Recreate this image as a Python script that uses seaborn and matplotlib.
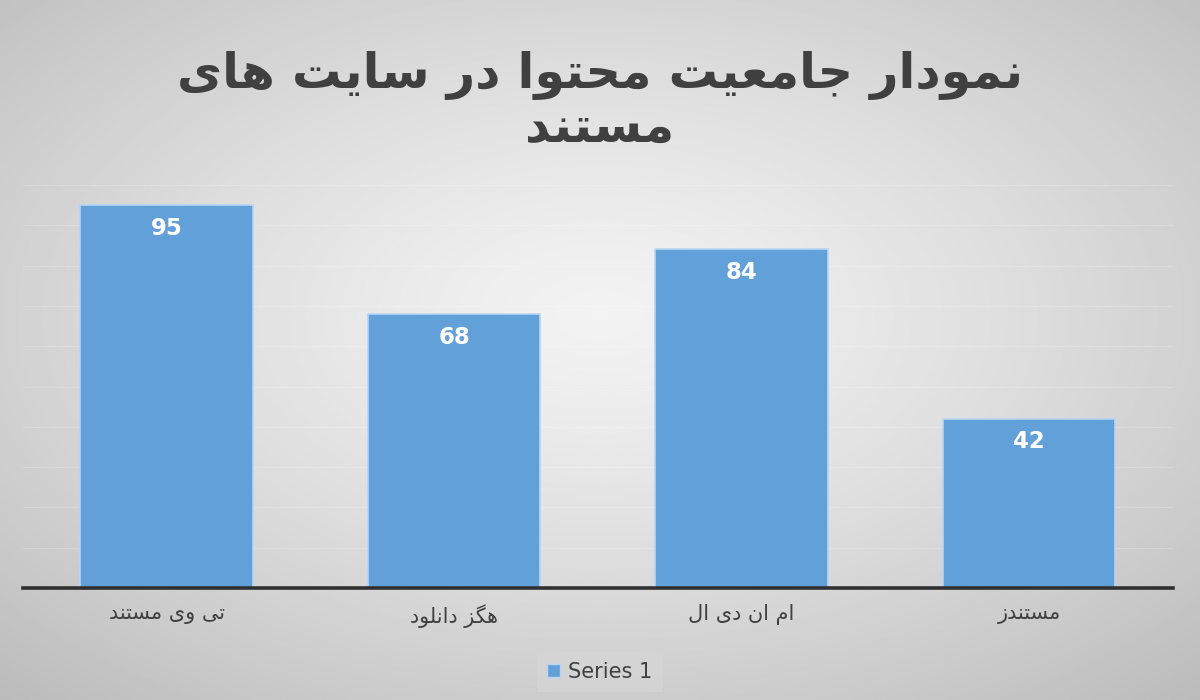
"""Persian bar chart: content coverage on documentary sites."""

import matplotlib
matplotlib.use("Agg")
import matplotlib.pyplot as plt
import numpy as np
import pandas as pd
import seaborn as sns
from matplotlib.patches import Patch

sns.set_style("white")
plt.rcParams["font.family"] = ["DejaVu Sans"]

# --- data -------------------------------------------------------------
TITLE_LINES = ["نمودار جامعیت محتوا در سایت های", "مستند"]
CATEGORIES = ["تی وی مستند", "هگز دانلود", "ام ان دی ال", "مستندز"]
VALUES = [95, 68, 84, 42]
SERIES_NAME = "Series 1"

BAR_COLOR = "#62a0da"
TEXT_COLOR = "#404040"

# Minimal Arabic/Persian shaper: (isolated, final, initial, medial)
_FORMS = {
    "ا": ("\uFE8D", "\uFE8E", None, None),
    "ت": ("\uFE95", "\uFE96", "\uFE97", "\uFE98"),
    "ج": ("\uFE9D", "\uFE9E", "\uFE9F", "\uFEA0"),
    "ح": ("\uFEA1", "\uFEA2", "\uFEA3", "\uFEA4"),
    "د": ("\uFEA9", "\uFEAA", None, None),
    "ر": ("\uFEAD", "\uFEAE", None, None),
    "ز": ("\uFEAF", "\uFEB0", None, None),
    "س": ("\uFEB1", "\uFEB2", "\uFEB3", "\uFEB4"),
    "ع": ("\uFEC9", "\uFECA", "\uFECB", "\uFECC"),
    "ل": ("\uFEDD", "\uFEDE", "\uFEDF", "\uFEE0"),
    "م": ("\uFEE1", "\uFEE2", "\uFEE3", "\uFEE4"),
    "ن": ("\uFEE5", "\uFEE6", "\uFEE7", "\uFEE8"),
    "ه": ("\uFEE9", "\uFEEA", "\uFEEB", "\uFEEC"),
    "و": ("\uFEED", "\uFEEE", None, None),
    "ی": ("\uFBFC", "\uFBFD", "\uFBFE", "\uFBFF"),
    "گ": ("\uFB92", "\uFB93", "\uFB94", "\uFB95"),
}


def shape(text):
    """Pick contextual glyph forms and reverse into visual order."""
    out = []
    for i, ch in enumerate(text):
        if ch not in _FORMS:
            out.append(ch)
            continue
        prev = text[i - 1] if i > 0 else ""
        nxt = text[i + 1] if i + 1 < len(text) else ""
        iso, fin, ini, med = _FORMS[ch]
        join_prev = prev in _FORMS and _FORMS[prev][2] is not None
        join_next = nxt in _FORMS and ini is not None
        if join_prev and join_next:
            out.append(med)
        elif join_prev:
            out.append(fin)
        elif join_next:
            out.append(ini)
        else:
            out.append(iso)
    return "".join(reversed(out))


df = pd.DataFrame({"site": CATEGORIES, "value": VALUES})

fig = plt.figure(figsize=(12, 7), dpi=100)

# radial grey background
bg = fig.add_axes([0, 0, 1, 1], zorder=0)
yy, xx = np.mgrid[0:1:300j, 0:1:500j]
r = np.sqrt(((xx - 0.5) / 0.75) ** 2 + ((yy - 0.45) / 0.75) ** 2)
bg.imshow(0.95 - 0.22 * np.clip(r, 0, 1) ** 1.3, cmap="gray", vmin=0, vmax=1,
          aspect="auto", extent=(0, 1, 0, 1))
bg.axis("off")

ax = fig.add_axes([0.019, 0.16, 0.9585, 0.5757], zorder=1)
ax.patch.set_alpha(0)

sns.barplot(data=df, x="site", y="value", color=BAR_COLOR, saturation=1,
            width=0.6, edgecolor="#b8d6f2", linewidth=1.2, ax=ax, zorder=3)

ax.set_xlim(-0.5, len(CATEGORIES) - 0.5)
ax.set_ylim(0, 100)
ax.set_yticks(np.arange(0, 101, 10))
ax.yaxis.grid(True, color="white", alpha=0.18, linewidth=0.8, zorder=0)
ax.tick_params(axis="y", left=False, labelleft=False)
ax.tick_params(axis="x", bottom=False, pad=8)
ax.set_xticks(range(len(CATEGORIES)))
ax.set_xticklabels([shape(c) for c in CATEGORIES], fontsize=15,
                   color=TEXT_COLOR)
ax.set_xlabel("")
ax.set_ylabel("")

for side in ("top", "left", "right"):
    ax.spines[side].set_visible(False)
ax.spines["bottom"].set_color("#303030")
ax.spines["bottom"].set_linewidth(2.6)
ax.spines["bottom"].set_zorder(4)

ax.bar_label(ax.containers[0], labels=[str(v) for v in VALUES],
             padding=-25, color="white", fontsize=16.5, fontweight="bold")

fig.text(0.5, 1 - 75 / 700, shape(TITLE_LINES[0]), ha="center", va="center",
         fontsize=35.5, fontweight="bold", color=TEXT_COLOR)
fig.text(0.5, 1 - 128 / 700, shape(TITLE_LINES[1]), ha="center", va="center",
         fontsize=35.5, fontweight="bold", color=TEXT_COLOR)

leg = ax.legend(handles=[Patch(facecolor=BAR_COLOR, edgecolor="#b8d6f2")],
                labels=[SERIES_NAME], loc="center",
                bbox_to_anchor=(0.5, 1 - 672 / 700),
                bbox_transform=fig.transFigure, fontsize=15, frameon=True,
                handlelength=0.6, handleheight=0.6, handletextpad=0.4,
                borderpad=0.5, fancybox=False)
leg.get_frame().set_facecolor("#d6d6d6")
leg.get_frame().set_alpha(0.7)
leg.get_frame().set_edgecolor("none")
for t in leg.get_texts():
    t.set_color(TEXT_COLOR)

fig.savefig("out.png", dpi=100)
plt.close(fig)
